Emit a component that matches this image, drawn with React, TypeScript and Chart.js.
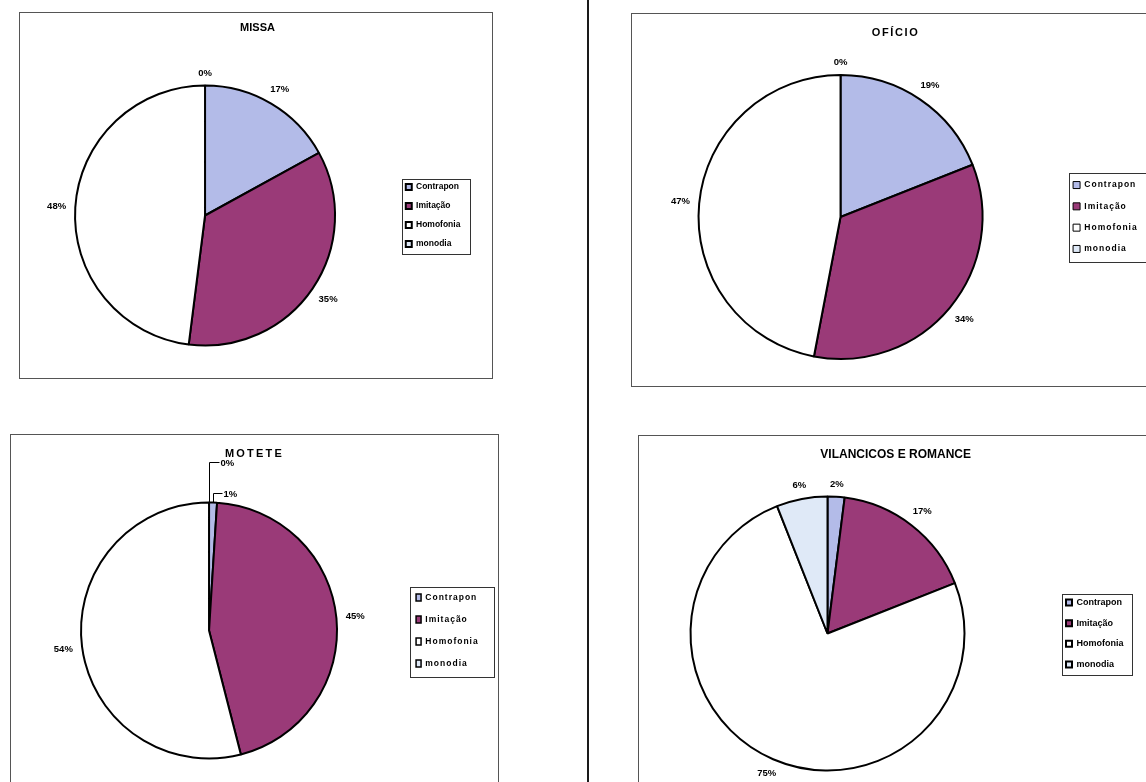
import React, { useEffect, useRef } from 'react';
import { Chart, registerables } from 'chart.js';

Chart.register(...registerables);

const FONT = '"Liberation Sans", Arial, Helvetica, sans-serif';
Chart.defaults.font.family = FONT;

// ---------- data ----------
const categories = ['Contrapon', 'Imitação', 'Homofonia', 'monodia'];
const missaValues = [17, 35, 48, 0];
const oficioValues = [19, 34, 47, 0];
const moteteValues = [1, 45, 54, 0];
const vilancicosValues = [2, 17, 75, 6];
const chartTitles = ['MISSA', 'OFÍCIO', 'MOTETE', 'VILANCICOS E ROMANCE'];
const sliceColors = ['#b3bbe8', '#9a3a78', '#ffffff', '#dfe9f7'];

// ---------- layout (positions / styles only) ----------
type Box = { left: number; top: number; width: number; height: number };
type PanelCfg = {
  title: string;
  values: number[];
  canvas: Box;
  frame: Box;
  padding: { left: number; right: number; top: number; bottom: number };
  radius: number;
  titlePos: [number, number];
  titleSize: number;
  titleSpacing: number;
  legendSize: number;
  legendSpacing: number;
  legendPadding: number;
  boxW: number;
  boxH: number;
  boxLine: number;
  legendMargins: [number, number, number, number];
  leaders?: Record<number, { lift: number; run: number }>;
};

const panels: PanelCfg[] = [
  {
    title: chartTitles[0],
    values: missaValues,
    canvas: { left: 0, top: 0, width: 587, height: 420 },
    frame: { left: 19, top: 12, width: 474, height: 367 },
    padding: { left: 14.8, right: 116.6, top: 30, bottom: 19 },
    radius: 130,
    titlePos: [257.5, 28.3],
    titleSize: 11,
    titleSpacing: 0,
    legendSize: 8.5,
    legendSpacing: 0,
    legendPadding: 10.5,
    boxW: 6,
    boxH: 6,
    boxLine: 2,
    legendMargins: [3.7, 3.75, 9.6, 5.75],
  },
  {
    title: chartTitles[1],
    values: oficioValues,
    canvas: { left: 588, top: 0, width: 600, height: 420 },
    frame: { left: 631, top: 13, width: 600, height: 374 },
    padding: { left: 32.8, right: 40.3, top: 30, bottom: 16 },
    radius: 142,
    titlePos: [306.8, 33.3],
    titleSize: 11,
    titleSpacing: 1.6,
    legendSize: 8.5,
    legendSpacing: 1,
    legendPadding: 12.8,
    boxW: 7,
    boxH: 7,
    boxLine: 1,
    legendMargins: [4, 7.75, 10, 8.75],
  },
  {
    title: chartTitles[2],
    values: moteteValues,
    canvas: { left: 0, top: 420, width: 587, height: 420 },
    frame: { left: 10, top: 434, width: 489, height: 400 },
    padding: { left: 15.5, right: 98.3, top: 20, bottom: 19 },
    radius: 128,
    titlePos: [253.4, 34.3],
    titleSize: 11,
    titleSpacing: 2.2,
    legendSize: 8.5,
    legendSpacing: 1,
    legendPadding: 13.5,
    boxW: 5,
    boxH: 7,
    boxLine: 1.5,
    legendMargins: [6, 6.75, 15.3, 8.75],
    leaders: { 3: { lift: 41, run: 10 }, 0: { lift: 10, run: 9 } },
  },
  {
    title: chartTitles[3],
    values: vilancicosValues,
    canvas: { left: 588, top: 420, width: 600, height: 420 },
    frame: { left: 638, top: 435, width: 600, height: 400 },
    padding: { left: 12.7, right: 54.5, top: 20, bottom: 13 },
    radius: 137,
    titlePos: [307.7, 34.3],
    titleSize: 12,
    titleSpacing: 0,
    legendSize: 9,
    legendSpacing: 0,
    legendPadding: 11.7,
    boxW: 6,
    boxH: 6,
    boxLine: 2,
    legendMargins: [4, 3.5, 8.5, 5.5],
  },
];

// ---------- plugins ----------
const spacingPlugin = {
  id: 'letterSpacing',
  beforeLayout(chart: any, _a: any, o: any) {
    (chart.ctx as any).letterSpacing = (o.px || 0) + 'px';
  },
  beforeDraw(chart: any, _a: any, o: any) {
    (chart.ctx as any).letterSpacing = (o.px || 0) + 'px';
  },
};

const pieLabelsPlugin = {
  id: 'pieLabels',
  afterDatasetsDraw(chart: any, _a: any, opts: any) {
    const ctx = chart.ctx as CanvasRenderingContext2D;
    const meta = chart.getDatasetMeta(0);
    const data = chart.data.datasets[0].data as number[];
    const total = data.reduce((a, b) => a + b, 0);
    ctx.save();
    (ctx as any).letterSpacing = '0px';
    ctx.font = `bold ${opts.size}px ${FONT}`;
    ctx.fillStyle = '#000';
    ctx.textBaseline = 'middle';
    meta.data.forEach((arc: any, i: number) => {
      const p = arc.getProps(['x', 'y', 'startAngle', 'endAngle', 'outerRadius'], true);
      const mid = (p.startAngle + p.endAngle) / 2;
      const text = Math.round((data[i] / total) * 100) + '%';
      const w = ctx.measureText(text).width;
      const h = opts.size * 0.72;
      const cos = Math.cos(mid);
      const sin = Math.sin(mid);
      const leader = opts.leaders && opts.leaders[i];
      if (leader) {
        const px = Math.round(p.x + cos * p.outerRadius) + 0.5;
        const py = p.y + sin * p.outerRadius;
        const ty = Math.round(py - leader.lift) + 0.5;
        const tx = px + leader.run;
        ctx.strokeStyle = '#000';
        ctx.lineWidth = 1;
        ctx.beginPath();
        ctx.moveTo(px, py);
        ctx.lineTo(px, ty);
        ctx.lineTo(tx, ty);
        ctx.stroke();
        ctx.textAlign = 'left';
        ctx.fillText(text, tx + 1, ty + 0.5);
      } else {
        const d = p.outerRadius + opts.gap + (Math.abs(cos) * w) / 2 + (Math.abs(sin) * h) / 2;
        ctx.textAlign = 'center';
        ctx.fillText(text, p.x + cos * d, p.y + sin * d);
      }
    });
    ctx.restore();
  },
};

const titlePlugin = {
  id: 'panelTitle',
  afterDraw(chart: any, _a: any, o: any) {
    const ctx = chart.ctx as CanvasRenderingContext2D;
    ctx.save();
    (ctx as any).letterSpacing = (o.spacing || 0) + 'px';
    ctx.font = `bold ${o.size}px ${FONT}`;
    ctx.fillStyle = '#000';
    ctx.textAlign = 'center';
    ctx.textBaseline = 'middle';
    ctx.fillText(o.text, o.x + (o.spacing || 0) / 2, o.y);
    ctx.restore();
  },
};

const legendFramePlugin = {
  id: 'legendFrame',
  afterDraw(chart: any, _a: any, o: any) {
    const boxes = chart.legend && chart.legend.legendHitBoxes;
    if (!boxes || !boxes.length) return;
    let l = Infinity, t = Infinity, r = -Infinity, b = -Infinity;
    boxes.forEach((hb: any) => {
      l = Math.min(l, hb.left);
      t = Math.min(t, hb.top);
      r = Math.max(r, hb.left + hb.width);
      b = Math.max(b, hb.top + hb.height);
    });
    const [ml, mt, mr, mb] = o.margins;
    const ctx = chart.ctx as CanvasRenderingContext2D;
    ctx.save();
    ctx.strokeStyle = '#333';
    ctx.lineWidth = 1;
    const x0 = Math.round(l - ml) + 0.5;
    const y0 = Math.round(t - mt) + 0.5;
    const x1 = Math.round(r + mr) + 0.5;
    const y1 = Math.round(b + mb) + 0.5;
    ctx.strokeRect(x0, y0, x1 - x0, y1 - y0);
    ctx.restore();
  },
};

function PiePanel({ cfg }: { cfg: PanelCfg }) {
  const ref = useRef<HTMLCanvasElement>(null);
  useEffect(() => {
    const canvas = ref.current;
    if (!canvas) return;
    const baseGen = (Chart as any).overrides.doughnut.plugins.legend.labels.generateLabels;
    const chart = new Chart(canvas, {
      type: 'pie',
      data: {
        labels: categories,
        datasets: [
          {
            data: cfg.values,
            backgroundColor: sliceColors,
            borderColor: '#000',
            borderWidth: 2,
            radius: cfg.radius,
          } as any,
        ],
      },
      options: {
        responsive: false,
        maintainAspectRatio: false,
        animation: false,
        events: [],
        layout: { padding: cfg.padding },
        plugins: {
          title: { display: false },
          tooltip: { enabled: false },
          legend: {
            display: true,
            position: 'right',
            align: 'center',
            labels: {
              color: '#000',
              font: { family: FONT, size: cfg.legendSize, weight: 'bold' },
              boxWidth: cfg.boxW,
              boxHeight: cfg.boxH,
              padding: cfg.legendPadding,
              generateLabels: (c: any) =>
                baseGen(c).map((it: any) => ({ ...it, lineWidth: cfg.boxLine, strokeStyle: '#000' })),
            },
          },
          letterSpacing: { px: cfg.legendSpacing },
          pieLabels: { size: 9.5, gap: 9, leaders: cfg.leaders },
          panelTitle: {
            text: cfg.title,
            x: cfg.titlePos[0],
            y: cfg.titlePos[1],
            size: cfg.titleSize,
            spacing: cfg.titleSpacing,
          },
          legendFrame: { margins: cfg.legendMargins },
        } as any,
      },
      plugins: [spacingPlugin, pieLabelsPlugin, titlePlugin, legendFramePlugin] as any,
    });
    return () => chart.destroy();
  }, [cfg]);
  const c = cfg.canvas;
  return (
    <canvas
      ref={ref}
      width={c.width}
      height={c.height}
      style={{ position: 'absolute', left: c.left, top: c.top, width: c.width, height: c.height }}
    />
  );
}

export default function App() {
  return (
    <div
      style={{
        position: 'fixed',
        left: 0,
        top: 0,
        width: 1146,
        height: 782,
        overflow: 'hidden',
        background: '#ffffff',
      }}
    >
      {panels.map((p, i) => (
        <div
          key={'f' + i}
          style={{
            position: 'absolute',
            left: p.frame.left,
            top: p.frame.top,
            width: p.frame.width,
            height: p.frame.height,
            border: '1px solid #555',
            boxSizing: 'border-box',
          }}
        />
      ))}
      <div
        style={{ position: 'absolute', left: 587, top: 0, width: 2, height: 782, background: '#1a1a1a' }}
      />
      {panels.map((p, i) => (
        <PiePanel key={'c' + i} cfg={p} />
      ))}
    </div>
  );
}
